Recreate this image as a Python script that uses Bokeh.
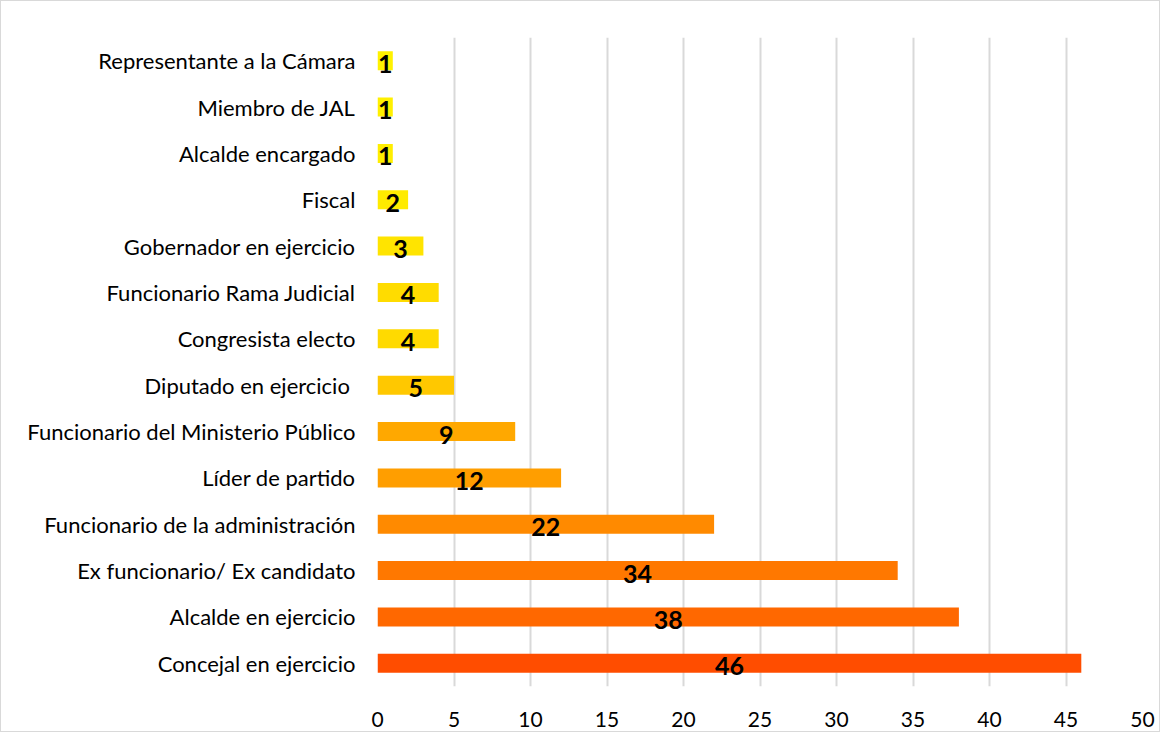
from bokeh.plotting import figure
from bokeh.models import ColumnDataSource, FactorRange, Range1d, FixedTicker, LabelSet
from bokeh.embed import file_html
from bokeh.resources import INLINE
from bokeh.core.properties import value

# Data (top to bottom as shown)
categories = [
    "Representante a la Cámara",
    "Miembro de JAL",
    "Alcalde encargado",
    "Fiscal",
    "Gobernador en ejercicio",
    "Funcionario Rama Judicial",
    "Congresista electo",
    "Diputado en ejercicio ",
    "Funcionario del Ministerio Público",
    "Líder de partido",
    "Funcionario de la administración",
    "Ex funcionario/ Ex candidato",
    "Alcalde en ejercicio",
    "Concejal en ejercicio",
]
counts = [1, 1, 1, 2, 3, 4, 4, 5, 9, 12, 22, 34, 38, 46]
bar_colors = [
    "#FFF200", "#FFF000", "#FFEE00", "#FFEB00", "#FFE400", "#FFDC00", "#FFDA00",
    "#FFC800", "#FFA800", "#FF9E00", "#FF8A00", "#FF7800", "#FF6800", "#FF4D00",
]
x_ticks = [0, 5, 10, 15, 20, 25, 30, 35, 40, 45, 50]

source = ColumnDataSource(dict(
    cat=categories,
    val=counts,
    color=bar_colors,
    label=[str(v) for v in counts],
    mid=[v / 2 for v in counts],
))

FONT = "Lato"

p = figure(
    y_range=FactorRange(factors=list(reversed(categories))),
    x_range=Range1d(0, 50),
    width=1160, height=732,
    output_backend="svg", toolbar_location=None,
    min_border_left=376, min_border_right=19,
    min_border_top=36, min_border_bottom=47,
)
p.styles = {"border": "1px solid #d9d9d9"}

p.hbar(y="cat", right="val", left=0, height=0.41, fill_color="color",
       line_color=None, source=source)

labels = LabelSet(x="mid", y="cat", text="label", source=source,
                  text_align="center", text_baseline="middle", y_offset=-3,
                  text_font=value(FONT), text_font_style="bold",
                  text_font_size="25px", text_color="#000000")
p.add_layout(labels)

p.outline_line_color = None
p.ygrid.grid_line_color = None
p.xgrid.grid_line_color = "#d9d9d9"
p.xgrid.grid_line_width = 2
p.xaxis.ticker = FixedTicker(ticks=x_ticks)

for ax in (p.xaxis[0], p.yaxis[0]):
    ax.axis_line_color = None
    ax.major_tick_line_color = None
    ax.minor_tick_line_color = None
    ax.major_label_text_font = FONT
    ax.major_label_text_color = "#000000"

p.yaxis.major_label_text_font_size = "22px"
p.xaxis.major_label_text_font_size = "21px"
p.yaxis.major_label_standoff = 16
p.xaxis.major_label_standoff = 19

open("out.html", "w").write(file_html(p, INLINE))
